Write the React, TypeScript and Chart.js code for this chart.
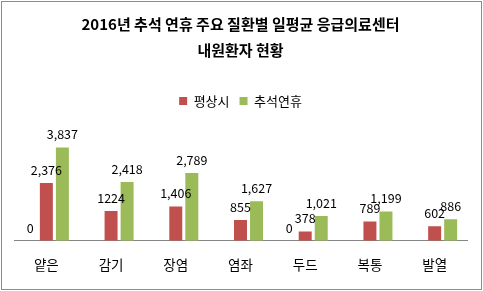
import React, { useEffect, useRef } from "react";
import { Chart, registerables } from "chart.js";

Chart.register(...registerables);

const categories = ["얕은", "감기", "장염", "염좌", "두드", "복통", "발열"];
const zeroValues = [0, 0, 0, 0, 0, 0, 0];
const zeroLabels = ["0", "", "", "", "0", "", ""];
const normalValues = [2376, 1224, 1406, 855, 378, 789, 602];
const normalLabels = ["2,376", "1224", "1,406", "855", "378", "789", "602"];
const holidayValues = [3837, 2418, 2789, 1627, 1021, 1199, 886];
const holidayLabels = ["3,837", "2,418", "2,789", "1,627", "1,021", "1,199", "886"];
const seriesNames = ["", "평상시", "추석연휴"];
const titleLines = ["2016년 추석 연휴 주요 질환별 일평균 응급의료센터", "내원환자 현황"];

const FONT = "'Noto Sans CJK KR', 'Noto Sans', sans-serif";

export default function App() {
  const ref = useRef<HTMLCanvasElement | null>(null);

  useEffect(() => {
    document.body.style.margin = "0";
    const canvas = ref.current;
    if (!canvas) return;
    const allLabels = [zeroLabels, normalLabels, holidayLabels];

    const borderPlugin = {
      id: "outerBorder",
      beforeDraw(chart: any) {
        const ctx = chart.ctx;
        ctx.save();
        ctx.fillStyle = "#ffffff";
        ctx.fillRect(0, 0, chart.width, chart.height);
        ctx.strokeStyle = "#8c8c8c";
        ctx.lineWidth = 1;
        ctx.strokeRect(1.5, 1.5, chart.width - 3, chart.height - 3);
        ctx.restore();
      },
    };

    const labelPlugin = {
      id: "valueLabels",
      afterDatasetsDraw(chart: any) {
        const ctx = chart.ctx;
        ctx.save();
        ctx.font = `12.5px ${FONT}`;
        ctx.fillStyle = "#000000";
        ctx.textAlign = "center";
        ctx.textBaseline = "middle";
        chart.data.datasets.forEach((_: any, di: number) => {
          const meta = chart.getDatasetMeta(di);
          meta.data.forEach((el: any, i: number) => {
            const txt = allLabels[di][i];
            if (!txt) return;
            ctx.fillText(txt, el.x, el.y - 13);
          });
        });
        ctx.restore();
      },
    };

    const chart = new Chart(canvas, {
      type: "bar",
      data: {
        labels: categories,
        datasets: [
          {
            label: seriesNames[0],
            data: zeroValues,
            backgroundColor: "rgba(0,0,0,0)",
          },
          {
            label: seriesNames[1],
            data: normalValues,
            backgroundColor: "#C0504D",
          },
          {
            label: seriesNames[2],
            data: holidayValues,
            backgroundColor: "#9BBB59",
          },
        ],
      },
      options: {
        animation: false,
        responsive: false,
        maintainAspectRatio: false,
        datasets: {
          bar: {
            categoryPercentage: 0.743,
            barPercentage: 0.81,
          },
        },
        layout: {
          padding: { left: 14, right: 16, top: 0, bottom: 2 },
        },
        plugins: {
          title: {
            display: true,
            text: titleLines,
            color: "#000000",
            font: { family: FONT, size: 15, weight: "bold", lineHeight: 1.68 },
            padding: { top: 12, bottom: 22 },
          },
          legend: {
            display: true,
            position: "top",
            labels: {
              boxWidth: 8,
              boxHeight: 8,
              color: "#000000",
              font: { family: FONT, size: 13 },
              padding: 10,
              filter: (item: any) => item.datasetIndex !== 0,
            },
          },
          tooltip: { enabled: false },
        },
        scales: {
          x: {
            grid: { display: false, drawTicks: false },
            border: { display: true, color: "#868686", width: 1 },
            ticks: {
              color: "#000000",
              font: { family: FONT, size: 13.5 },
              padding: 16,
            },
          },
          y: {
            display: false,
            min: 0,
            max: 5070,
          },
        },
      },
      plugins: [borderPlugin, labelPlugin],
    });

    return () => chart.destroy();
  }, []);

  return <canvas ref={ref} width={483} height={291} style={{ display: "block" }} />;
}
